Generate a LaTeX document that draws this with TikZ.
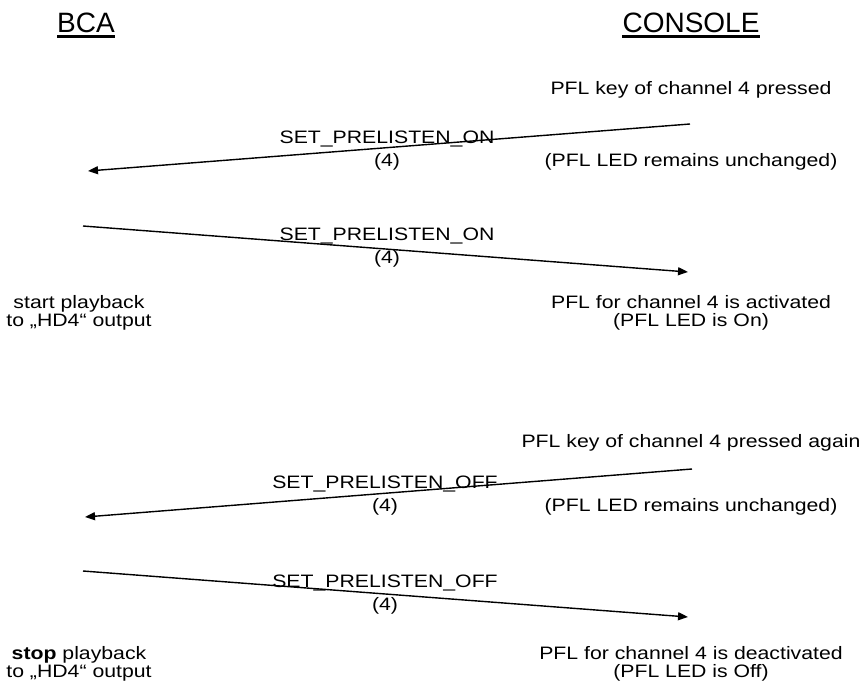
\documentclass[tikz,border=0pt]{standalone}
\usepackage{fontspec}
\setmainfont{Liberation Sans}[FakeStretch=1.18]
\newfontfamily\titlefont{Liberation Sans}
\usetikzlibrary{arrows.meta}

\begin{document}
\begin{tikzpicture}[
    x=1pt, y=-1pt,
    title/.style={anchor=base, inner sep=0pt, font=\titlefont\fontsize{28}{30}\selectfont},
    note/.style={anchor=base, inner sep=0pt, align=center, font=\fontsize{18}{17.5}\selectfont},
    msg/.style={anchor=base, inner sep=0pt, align=center, font=\fontsize{18}{23}\selectfont},
    arrow/.style={-{Triangle[length=10pt,width=8pt]}, line width=1.4pt},
    bar/.style={line width=2.8pt}
]
\useasboundingbox (0,0) rectangle (864,691);

% headings
\node[title] (bca) at (86,32) {BCA};
\node[title] (console) at (691,32) {CONSOLE};
\draw[bar] ([yshift=-4.5pt]bca.base west) -- ([yshift=-4.5pt]bca.base east);
\draw[bar] ([yshift=-4.5pt]console.base west) -- ([yshift=-4.5pt]console.base east);

% PFL on
\node[note] (key1) at (691,94) {PFL key of channel 4 pressed};
\coordinate (k1) at (690,124);
\coordinate (b1) at (88,171);
\draw[arrow] (k1) -- (b1);
\node[msg] (m1) at (387,166) {SET\_PRELISTEN\_ON\\(4)};
\node[note] (led1) at (691,166) {(PFL LED remains unchanged)};

\coordinate (b2) at (83,226);
\coordinate (k2) at (688,272);
\draw[arrow] (b2) -- (k2);
\node[msg] (m2) at (387,263) {SET\_PRELISTEN\_ON\\(4)};
\node[note] (play1) at (79,326) {start playback\\to „HD4“ output};
\node[note] (act1) at (691,326) {PFL for channel 4 is activated\\(PFL LED is On)};

% PFL off
\node[note] (key2) at (691,447) {PFL key of channel 4 pressed again};
\coordinate (k3) at (692,469);
\coordinate (b3) at (85,517);
\draw[arrow] (k3) -- (b3);
\node[msg] (m3) at (385,511) {SET\_PRELISTEN\_OFF\\(4)};
\node[note] (led2) at (691,511) {(PFL LED remains unchanged)};

\coordinate (b4) at (83,571);
\coordinate (k4) at (688,617);
\draw[arrow] (b4) -- (k4);
\node[msg] (m4) at (385,610) {SET\_PRELISTEN\_OFF\\(4)};
\node[note] (play2) at (79,677) {\textbf{stop} playback\\to „HD4“ output};
\node[note] (act2) at (691,677) {PFL for channel 4 is deactivated\\(PFL LED is Off)};

\end{tikzpicture}
\end{document}
